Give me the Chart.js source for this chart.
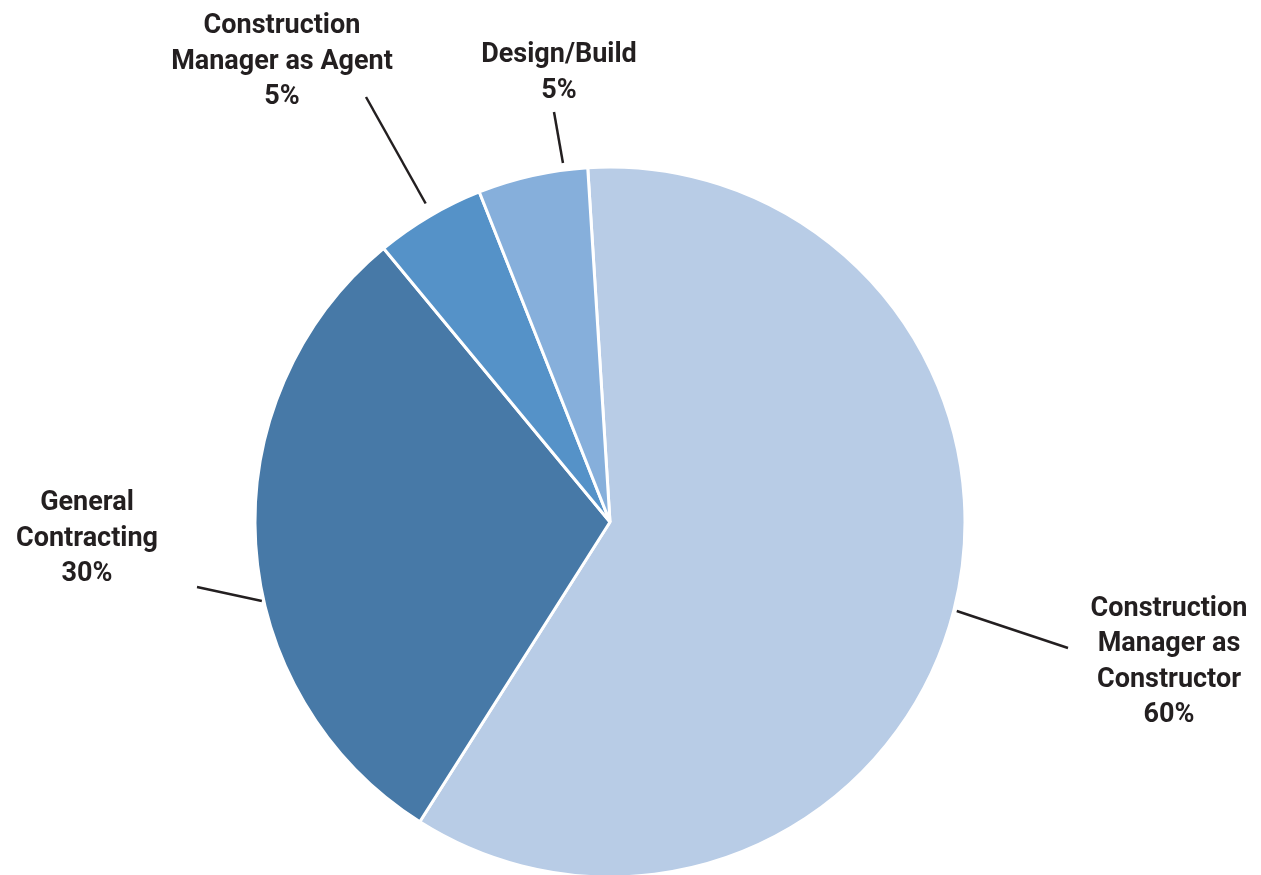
<!DOCTYPE html>
<html>
<head>
<meta charset="utf-8">
<script src="https://cdn.jsdelivr.net/npm/chart.js@4"></script>
<style>
  html, body { margin: 0; padding: 0; background: #fff; }
  #wrap { width: 1261px; height: 875px; }
</style>
</head>
<body>
<div id="wrap"><canvas id="deliveryChart"></canvas></div>
<script>
const methods = ["Construction Manager as Constructor", "General Contracting", "Construction Manager as Agent", "Design/Build"];
const shares = [60, 30, 5, 5];
const labelLines = [
  ["Construction", "Manager as", "Constructor", "60%"],
  ["General", "Contracting", "30%"],
  ["Construction", "Manager as Agent", "5%"],
  ["Design/Build", "5%"]
];
const colors = ["#b8cce6", "#4779a7", "#5592c8", "#86afdb"];

// leader line: start on the slice (fraction along arc, gap past rim), end offset from pie centre;
// label block centre offset from pie centre
const leaders = [
  { frac: 0.5, r0: 3, ox: 458, oy: 126, tx: 559, ty: 140 },
  { frac: 0.415, r0: 2, ox: -413, oy: 65, tx: -523, ty: 17 },
  { frac: 0.53, r0: 13, ox: -244, oy: -425, tx: -328, ty: -460 },
  { frac: 0.785, r0: 7, ox: -56, oy: -410, tx: -51, ty: -449 }
];

const calloutPlugin = {
  id: "callouts",
  afterDatasetsDraw(chart) {
    const ctx = chart.ctx;
    const arcs = chart.getDatasetMeta(0).data;
    ctx.save();
    ctx.font = "bold 27px Roboto";
    ctx.fillStyle = "#231f20";
    ctx.strokeStyle = "#231f20";
    ctx.lineWidth = 2.5;
    ctx.textAlign = "center";
    ctx.textBaseline = "middle";
    arcs.forEach((arc, i) => {
      const p = arc.getProps(["x", "y", "startAngle", "endAngle", "outerRadius"], true);
      const L = leaders[i];
      const a = p.startAngle + (p.endAngle - p.startAngle) * L.frac;
      const r = p.outerRadius + L.r0;
      ctx.beginPath();
      ctx.moveTo(p.x + Math.cos(a) * r, p.y + Math.sin(a) * r);
      ctx.lineTo(p.x + L.ox, p.y + L.oy);
      ctx.stroke();
      const lines = labelLines[i];
      const lh = 35.5;
      const y0 = p.y + L.ty - (lines.length - 1) * lh / 2;
      lines.forEach((t, k) => {
        ctx.fillText(t, p.x + L.tx, y0 + k * lh);
      });
    });
    ctx.restore();
  }
};

new Chart(document.getElementById("deliveryChart"), {
  type: "pie",
  data: {
    labels: methods,
    datasets: [{
      data: shares,
      backgroundColor: colors,
      borderColor: "#ffffff",
      borderWidth: 3
    }]
  },
  options: {
    responsive: true,
    maintainAspectRatio: false,
    animation: false,
    rotation: -3.6,
    radius: 355,
    layout: { padding: { left: 0, right: 41, top: 169, bottom: 0 } },
    plugins: {
      legend: { display: false },
      tooltip: { enabled: false }
    }
  },
  plugins: [calloutPlugin]
});
</script>
</body>
</html>
